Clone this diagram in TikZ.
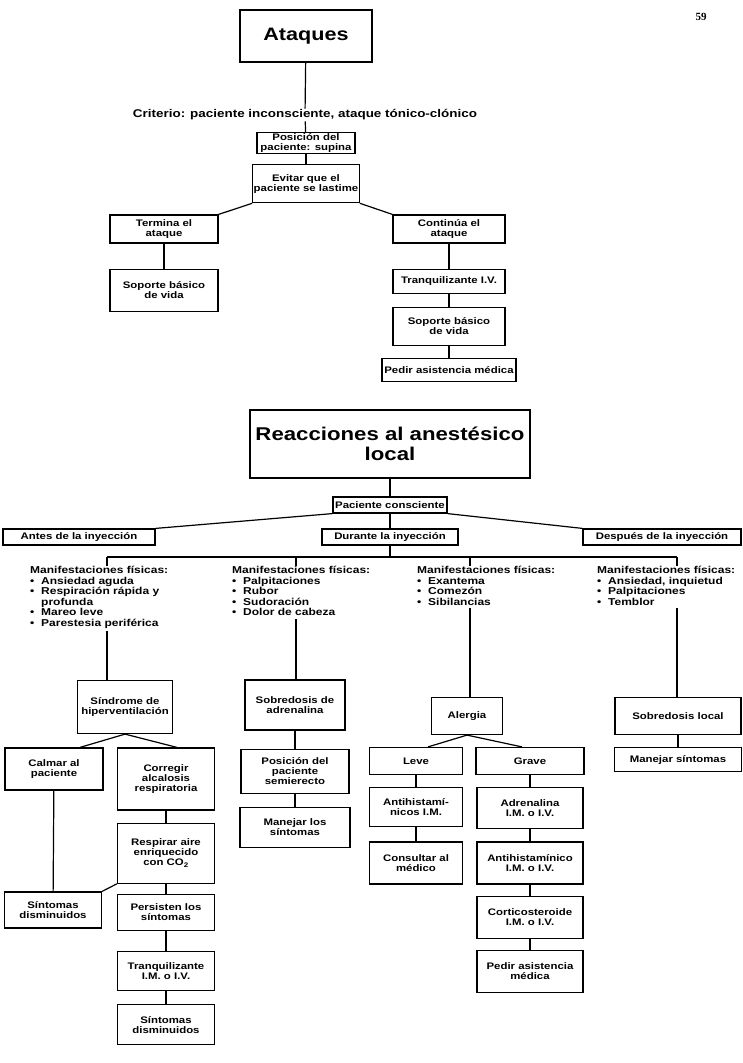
\documentclass[tikz,border=0pt]{standalone}
\usepackage{fontspec}
\setmainfont{Liberation Sans}[FakeStretch=1.2]
\newfontfamily\pagefont{Liberation Serif}
\usetikzlibrary{positioning}
\tikzset{box/.style={
    % The shape:
    rectangle,
    % The border:
    draw=black, line width=1.2pt,
    % Font
    font=\bfseries\fontsize{9.5}{10}\selectfont,
    align=center, inner sep=1pt,
    },
    bigbox/.style={
    rectangle,
    draw=black, line width=1.3pt,
    font=\bfseries\fontsize{18.5}{20.5}\selectfont,
    align=center,
    },
    manif/.style={
    font=\bfseries\fontsize{10}{10.5}\selectfont,
    align=left, inner sep=0pt, anchor=north west,
    },
    link/.style={line width=1.2pt},
}
\newcommand{\mbul}{\makebox[11pt][l]{\textbullet}}

\begin{document}
\begin{tikzpicture}[x=1pt,y=-1pt,node distance=12pt]
    \useasboundingbox (0,0) rectangle (743,1063);
    \node (pagina) [font=\pagefont\bfseries\fontsize{11}{12}\selectfont] at (701,17) {59};

    % Ataques
    \node (ataques)  [bigbox,font=\bfseries\fontsize{18}{20}\selectfont,minimum width=132pt,minimum height=52pt] at (306,36) {Ataques};
    \node (criterio) [font=\bfseries\fontsize{11.2}{12}\selectfont,inner sep=1pt] at (305,115) {Criterio: paciente inconsciente, ataque tónico-clónico};
    \node (supina)   [box,minimum width=98pt,minimum height=21pt] at (306,143) {Posición del\\paciente: supina};
    \node (evitar)   [box,minimum width=106pt,minimum height=38pt,below=10pt of supina] {Evitar que el\\paciente se lastime};
    \node (termina)  [box,minimum width=108pt,minimum height=28pt] at (164,229) {Termina el\\ataque};
    \node (soporteA) [box,minimum width=108pt,minimum height=42pt,below=25pt of termina] {Soporte básico\\de vida};
    \node (continua) [box,minimum width=112pt,minimum height=28pt] at (449,229) {Continúa el\\ataque};
    \node (tranqA)   [box,minimum width=112pt,minimum height=24pt,below=25pt of continua] {Tranquilizante I.V.};
    \node (soporteB) [box,minimum width=112pt,minimum height=38pt,below=13pt of tranqA] {Soporte básico\\de vida};
    \node (pedirA)   [box,minimum width=134pt,minimum height=23pt,below=12pt of soporteB] {Pedir asistencia médica};

    \draw [link] (ataques) -- (criterio);
    \draw [link] (criterio) -- (supina);
    \draw [link] (supina) -- (evitar);
    \draw [link] (evitar.south west) -- (termina.north east);
    \draw [link] (evitar.south east) -- (continua.north west);
    \draw [link] (termina) -- (soporteA);
    \draw [link] (continua) -- (tranqA);
    \draw [link] (tranqA) -- (soporteB);
    \draw [link] (soporteB) -- (pedirA);

    % Reacciones
    \node (reacciones) [bigbox,minimum width=280pt,minimum height=68pt] at (390,444) {Reacciones al anestésico\\local};
    \node (paciente)   [box,minimum width=114pt,minimum height=16pt] at (390,505) {Paciente consciente};
    \node (antes)      [box,minimum width=152pt,minimum height=16pt] at (79,537) {Antes de la inyección};
    \node (durante)    [box,minimum width=136pt,minimum height=16pt] at (390,537) {Durante la inyección};
    \node (despues)    [box,minimum width=158pt,minimum height=16pt] at (662,537) {Después de la inyección};

    \draw [link] (reacciones) -- (paciente);
    \draw [link] (paciente.south west) -- (antes.north east);
    \draw [link] (paciente) -- (durante);
    \draw [link] (paciente.south east) -- (despues.north west);

    \coordinate (dA) at (107,557);
    \coordinate (dB) at (296,557);
    \coordinate (dC) at (470,557);
    \coordinate (dD) at (677,557);
    \node (manA) [manif] at (30,566) {Manifestaciones físicas:\\\mbul Ansiedad aguda\\\mbul Respiración rápida y\\\hspace*{11pt}profunda\\\mbul Mareo leve\\\mbul Parestesia periférica};
    \node (manB) [manif] at (232,566) {Manifestaciones físicas:\\\mbul Palpitaciones\\\mbul Rubor\\\mbul Sudoración\\\mbul Dolor de cabeza};
    \node (manC) [manif] at (417,566) {Manifestaciones físicas:\\\mbul Exantema\\\mbul Comezón\\\mbul Sibilancias};
    \node (manD) [manif] at (597,566) {Manifestaciones físicas:\\\mbul Ansiedad, inquietud\\\mbul Palpitaciones\\\mbul Temblor};

    \draw [link] (durante) -- (durante.south |- dA);
    \draw [link] (dA) -- (dD);
    \draw [link] (dA) -- (dA |- manA.north);
    \draw [link] (dB) -- (dB |- manB.north);
    \draw [link] (dC) -- (dC |- manC.north);
    \draw [link] (dD) -- (dD |- manD.north);

    % Antes de la inyeccion
    \node (sindrome)  [box,minimum width=95pt,minimum height=53pt] at (125,707) {Síndrome de\\hiperventilación};
    \node (calmar)    [box,minimum width=98pt,minimum height=42pt] at (54,769) {Calmar al\\paciente};
    \node (corregir)  [box,minimum width=97pt,minimum height=62pt] at (166,779) {Corregir\\alcalosis\\respiratoria};
    \node (respirar)  [box,minimum width=97pt,minimum height=60pt,below=12pt of corregir] {Respirar aire\\enriquecido\\con CO\textsubscript{2}};
    \node (persisten) [box,minimum width=97pt,minimum height=36pt,below=10pt of respirar] {Persisten los\\síntomas};
    \node (sintA)     [box,minimum width=97pt,minimum height=36pt] at (53,910) {Síntomas\\disminuidos};
    \node (tranqB)    [box,minimum width=97pt,minimum height=39pt,below=20pt of persisten] {Tranquilizante\\I.M. o I.V.};
    \node (sintB)     [box,minimum width=97pt,minimum height=40pt,below=13pt of tranqB] {Síntomas\\disminuidos};

    \draw [link] ([yshift=-3pt]dA |- manA.south) -- (dA |- sindrome.north);
    \draw [link] (sindrome.south) -- ([xshift=26pt]calmar.north);
    \draw [link] (sindrome.south) -- ([xshift=11pt]corregir.north);
    \draw [link] (calmar) -- (sintA);
    \draw [link] (corregir) -- (respirar);
    \draw [link] (respirar.south west) -- (sintA.north east);
    \draw [link] (respirar) -- (persisten);
    \draw [link] (persisten) -- (tranqB);
    \draw [link] (tranqB) -- (sintB);

    % Durante la inyeccion
    \node (sobreA)   [box,minimum width=100pt,minimum height=50pt] at (295,705) {Sobredosis de\\adrenalina};
    \node (semi)     [box,minimum width=108pt,minimum height=44pt,below=18pt of sobreA] {Posición del\\paciente\\semierecto};
    \node (manejarA) [box,minimum width=110pt,minimum height=40pt,below=13pt of semi] {Manejar los\\síntomas};

    \draw [link] ([yshift=-3pt]dB |- manB.south) -- (dB |- sobreA.north);
    \draw [link] (sobreA) -- (semi);
    \draw [link] (semi) -- (manejarA);

    \node (alergia)   [box,minimum width=71pt,minimum height=37pt] at (467,716) {Alergia};
    \node (leve)      [box,minimum width=93pt,minimum height=27pt] at (416,761) {Leve};
    \node (grave)     [box,minimum width=108pt,minimum height=27pt] at (530,761) {Grave};
    \node (antihA)    [box,minimum width=93pt,minimum height=39pt,below=12pt of leve] {Antihistamí-\\nicos I.M.};
    \node (consultar) [box,minimum width=93pt,minimum height=42pt,below=14pt of antihA] {Consultar al\\médico};
    \node (adren)     [box,minimum width=106pt,minimum height=41pt,below=12pt of grave] {Adrenalina\\I.M. o I.V.};
    \node (antihB)    [box,minimum width=106pt,minimum height=42pt,below=12pt of adren] {Antihistamínico\\I.M. o I.V.};
    \node (cortico)   [box,minimum width=106pt,minimum height=42pt,below=11pt of antihB] {Corticosteroide\\I.M. o I.V.};
    \node (pedirB)    [box,minimum width=106pt,minimum height=42pt,below=11pt of cortico] {Pedir asistencia\\médica};

    \draw [link] ([yshift=-3pt]dC |- manC.south) -- (dC |- alergia.north);
    \draw [link] (alergia.south) -- ([xshift=12pt]leve.north);
    \draw [link] (alergia.south) -- ([xshift=-8pt]grave.north);
    \draw [link] (leve) -- (antihA);
    \draw [link] (antihA) -- (consultar);
    \draw [link] (grave) -- (adren);
    \draw [link] (adren) -- (antihB);
    \draw [link] (antihB) -- (cortico);
    \draw [link] (cortico) -- (pedirB);

    % Despues de la inyeccion
    \node (sobreL)   [box,minimum width=126pt,minimum height=37pt] at (678,716) {Sobredosis local};
    \node (manejarB) [box,minimum width=127pt,minimum height=24pt,below=12pt of sobreL] {Manejar síntomas};

    \draw [link] ([yshift=-3pt]dD |- manD.south) -- (dD |- sobreL.north);
    \draw [link] (sobreL) -- (manejarB);
\end{tikzpicture}
\end{document}
